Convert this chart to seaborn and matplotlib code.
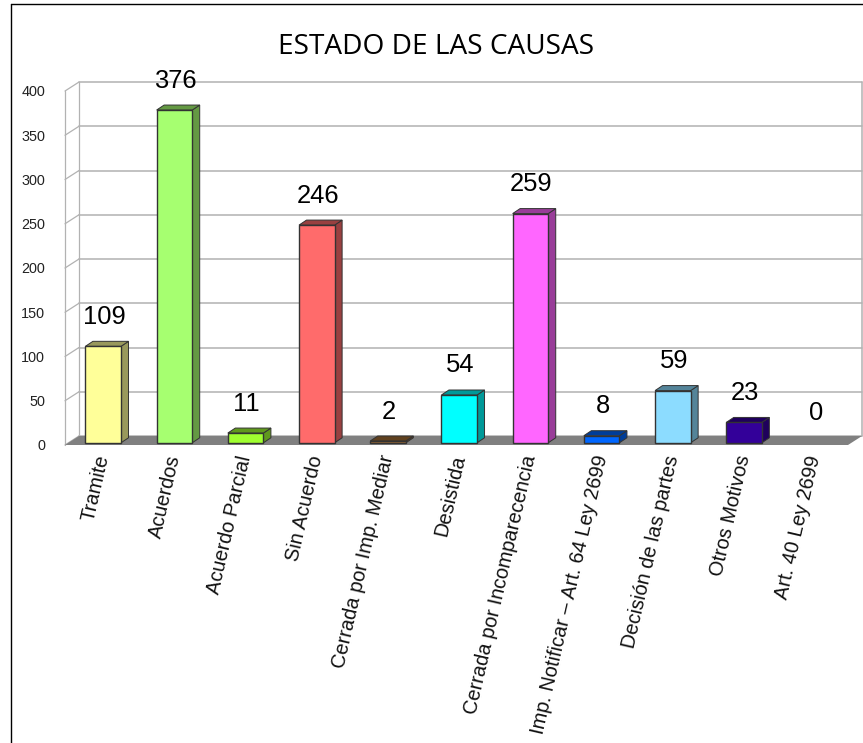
import matplotlib
matplotlib.use("Agg")
import matplotlib.pyplot as plt
from matplotlib.colors import to_rgb
from matplotlib.lines import Line2D
from matplotlib.transforms import ScaledTranslation
import pandas as pd
import seaborn as sns

sns.set_theme(style="white")
plt.rcParams["font.family"] = ["Liberation Sans", "DejaVu Sans"]

CATEGORIAS = ["Tramite", "Acuerdos", "Acuerdo Parcial", "Sin Acuerdo",
              "Cerrada por Imp. Mediar", "Desistida", "Cerrada por Incomparecencia",
              "Imp. Notificar – Art. 64 Ley 2699", "Decisión de las partes",
              "Otros Motivos", "Art. 40 Ley 2699"]
VALORES = [109, 376, 11, 246, 2, 54, 259, 8, 59, 23, 0]
CORES = ["#FFFF99", "#A6FF70", "#A0FF30", "#FF6B6B", "#A06C34", "#00FFFF",
         "#FF66FF", "#0066FF", "#8CDCFF", "#330099", "#CCCCCC"]
TICKS_Y = [0, 50, 100, 150, 200, 250, 300, 350, 400]

W, H = 863, 743
PX_X = 1 / 71.2          # data units per pixel, x
PX_Y = 400 / 354         # data units per pixel, y
FRENTE = -2.5            # floor front edge sits a bit below the bar base
X0, X1 = -0.5365, 10.46
PAREDE_X, PAREDE_Y = 14 * PX_X, 9 * PX_Y
BARRA_X, BARRA_Y = 7.5 * PX_X, 5 * PX_Y
CINZA = "#B2B2B2"

df = pd.DataFrame({"categoria": CATEGORIAS, "valor": VALORES})

fig = plt.figure(figsize=(W / 100, H / 100), dpi=100)
ax = fig.add_axes([65 / W, (H - 445) / H, (848 - 65) / W, (445 - 88.8) / H])

sns.barplot(data=df, x="categoria", y="valor", hue="categoria", palette=CORES,
            order=CATEGORIAS, hue_order=CATEGORIAS, legend=False, dodge=False,
            width=0.5, saturation=1, edgecolor="#333333", linewidth=1, zorder=4, ax=ax)

ax.set_xlim(X0, X1)
ax.set_ylim(FRENTE, 400)
sns.despine(ax=ax, left=True, bottom=True)
ax.set_xlabel("")
ax.set_ylabel("")

# walls and floor of the fake 3D box
for v in TICKS_Y:
    base = v + FRENTE
    ax.plot([X0 + PAREDE_X, X1 + PAREDE_X], [base + PAREDE_Y] * 2, color=CINZA, lw=1.1,
            zorder=1, clip_on=False)
    ax.plot([X0, X0 + PAREDE_X], [base, base + PAREDE_Y], color=CINZA, lw=0.9,
            zorder=1, clip_on=False)
topo = 400 + FRENTE
ax.plot([X0, X0], [FRENTE, topo], color=CINZA, lw=0.9, zorder=1, clip_on=False)
ax.plot([X0 + PAREDE_X] * 2, [FRENTE + PAREDE_Y, topo + PAREDE_Y], color=CINZA, lw=0.9,
        zorder=1, clip_on=False)
ax.plot([X1 + PAREDE_X] * 2, [FRENTE + PAREDE_Y, topo + PAREDE_Y], color=CINZA, lw=1.1,
        zorder=1, clip_on=False)
ax.fill([X0, X0 + PAREDE_X, X1 + PAREDE_X, X1],
        [FRENTE, FRENTE + PAREDE_Y, FRENTE + PAREDE_Y, FRENTE],
        color="#808080", lw=0, zorder=2, clip_on=False)

# side and top faces, plus value labels
for barra, cor, valor in zip(ax.patches, CORES, VALORES):
    x, w = barra.get_x(), barra.get_width()
    if valor > 0:
        r, g, b = to_rgb(cor)
        escura = (r * 0.6, g * 0.6, b * 0.6)
        ax.fill([x + w, x + w + BARRA_X, x + w + BARRA_X, x + w],
                [0, BARRA_Y, valor + BARRA_Y, valor],
                facecolor=escura, edgecolor="#333333", lw=0.7, zorder=3, clip_on=False)
        ax.fill([x, x + BARRA_X, x + w + BARRA_X, x + w],
                [valor, valor + BARRA_Y, valor + BARRA_Y, valor],
                facecolor=escura, edgecolor="#333333", lw=0.7, zorder=3, clip_on=False)
    else:
        barra.set_visible(False)
    ax.annotate(str(valor), (x + w / 2, valor), xytext=(1, 29.5), textcoords="offset pixels",
                ha="center", va="center", fontsize=18.4, color="black", zorder=6,
                annotation_clip=False)

ax.set_yticks(TICKS_Y)
ax.tick_params(axis="y", length=0, pad=14.4, labelsize=10.4, labelcolor="#222222")
desloc = ScaledTranslation(0, -2.2 / 100, fig.dpi_scale_trans)
for tick in ax.yaxis.get_major_ticks():
    tick.label1.set_transform(tick.label1.get_transform() + desloc)

ax.set_xticks(range(len(CATEGORIAS)))
ax.set_xticklabels(CATEGORIAS, rotation=77, ha="right", va="center", rotation_mode="anchor")
ax.tick_params(axis="x", length=0, pad=7.5, labelsize=14.4, labelcolor="#111111")

fig.text(436 / W, 1 - 47 / H, "ESTADO DE LAS CAUSAS", ha="center", va="center",
         fontsize=20.2, family="Open Sans", color="black")

# border of the original picture: only top and left are visible
fig.add_artist(Line2D([10.5 / W, 10.5 / W], [0, 1 - 3.5 / H], color="black", lw=1))
fig.add_artist(Line2D([10.5 / W, 1], [1 - 3.5 / H, 1 - 3.5 / H], color="black", lw=1))

fig.savefig("out.png", dpi=100)
